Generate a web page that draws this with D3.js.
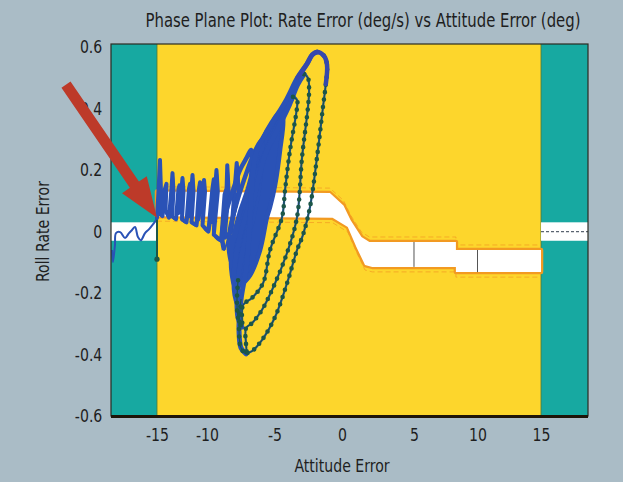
<!DOCTYPE html>
<html>
<head>
<meta charset="utf-8">
<script src="https://cdn.jsdelivr.net/npm/d3@7"></script>
<style>
  html, body { margin: 0; padding: 0; background: #aabcc6; }
  svg { display: block; }
  text { font-family: "Liberation Sans Narrow", "DejaVu Sans Condensed", "Roboto", sans-serif; fill: #1e1e1e; }
</style>
</head>
<body>
<svg id="chart" width="623" height="482"></svg>
<script>
// ---- axis ticks ----
const xTicks = [-15, -10, -5, 0, 5, 10, 15];
const yTicks = [0.6, 0.4, 0.2, 0, -0.2, -0.4, -0.6];

// ---- zones: attitude error limits (outside = teal, inside = yellow) ----
const xLimits = [-18.5, 18.5];
const innerLimits = [-15, 15];

// ---- rate deadband envelope [attitude, rate] ----
const bandOuterLeft  = { x: [-18.5, -15], upper: 0.03, lower: -0.03 };
const bandOuterRight = { x: [15, 18.5],   upper: 0.03, lower: -0.03 };
const bandUpper = [[-15, 0.13], [-0.9, 0.125], [0.1, 0.085], [0.6, 0.037], [1.35, -0.018], [1.9, -0.034], [8.3, -0.034], [8.3, -0.06], [15, -0.06]];
const bandLower = [[-15, 0.05], [-0.7, 0.045], [0.4, 0.015], [1.0, -0.05], [1.6, -0.109], [2.1, -0.115], [8.3, -0.115], [8.3, -0.132], [15, -0.132]];
const bandGridX = [5, 10];
const bandStepX = 8.3;

// ---- trajectory before reaching the attitude limit ----
const preTrack = [[-18.42, -0.06], [-18.35, -0.099], [-18.2, -0.044], [-18.12, -0.005], [-17.8, -0.002], [-17.43, -0.021], [-17.13, -0.005], [-16.9, 0.005], [-16.67, 0.015], [-16.45, -0.018], [-16.22, -0.028], [-15.91, -0.005], [-15.6, 0.008], [-15.3, 0.024], [-15.08, 0.037], [-15.0, 0.05]];
const limitHit = [[-15, 0.06], [-15, -0.07], [-15, -0.09]];

// ---- limit-cycle chatter along the deadband ----
const chatter = [
  [-15, 0.044], [-14.85, 0.13], [-14.7, 0.233], [-14.6, 0.13], [-14.75, 0.06], [-14.45, 0.05], [-14.2, 0.14], [-14.05, 0.155], [-14.15, 0.07], [-13.8, 0.045],
  [-13.55, 0.14], [-13.45, 0.19], [-13.35, 0.13], [-13.5, 0.05], [-13.1, 0.04], [-12.85, 0.14], [-12.75, 0.15], [-12.85, 0.06],
  [-12.55, 0.14], [-12.45, 0.174], [-12.35, 0.13], [-12.5, 0.04], [-12.05, 0.03], [-11.8, 0.14], [-11.7, 0.155], [-11.8, 0.05],
  [-11.55, 0.14], [-11.45, 0.184], [-11.35, 0.13], [-11.55, 0.03], [-11.05, 0.02], [-10.8, 0.14], [-10.7, 0.16], [-10.85, 0.04],
  [-10.4, 0.14], [-10.3, 0.168], [-10.2, 0.13], [-10.45, 0.02], [-9.9, 0.0], [-9.6, 0.14], [-9.5, 0.17], [-9.6, 0.03],
  [-9.4, 0.14], [-9.3, 0.2], [-9.2, 0.13], [-9.5, -0.01], [-8.95, -0.03], [-8.7, 0.12], [-8.55, 0.14],
  [-8.5, 0.216], [-8.4, 0.13], [-8.7, -0.02], [-8.2, 0.0], [-7.95, 0.14], [-7.8, 0.223], [-7.65, 0.13], [-8.3, 0.0]];

// ---- growing oscillation loops (inner to outer) ----
const loop6 = [[-8.74, -0.06], [-8.89, -0.011], [-8.59, 0.063], [-8.07, 0.135], [-7.56, 0.2], [-7.04, 0.242], [-6.74, 0.265], [-6.67, 0.233], [-6.81, 0.151], [-7.19, 0.063], [-7.7, -0.002], [-8.3, -0.054]];
const loop5 = [[-8.15, -0.112], [-8.37, -0.06], [-8.3, 0.005], [-7.85, 0.086], [-7.26, 0.168], [-6.67, 0.239], [-6.22, 0.281], [-5.93, 0.298], [-5.93, 0.249], [-6.07, 0.168], [-6.37, 0.086], [-6.81, 0.005], [-7.33, -0.06], [-7.85, -0.106]];
const loop4 = [[-7.93, -0.181], [-8.15, -0.142], [-8.22, -0.076], [-8.0, -0.011], [-7.56, 0.063], [-7.0, 0.135], [-6.5, 0.216], [-5.9, 0.298], [-5.19, 0.356], [-4.59, 0.389], [-4.37, 0.369], [-4.59, 0.265], [-4.96, 0.151], [-5.33, 0.08], [-5.56, 0.047], [-6.07, -0.06], [-6.81, -0.142], [-7.56, -0.177]];
const loop3 = [[-7.7, -0.242], [-7.93, -0.207], [-8.0, -0.142], [-7.85, -0.076], [-7.48, -0.002], [-7.0, 0.07], [-6.5, 0.151], [-5.9, 0.233], [-5.1, 0.314], [-4.3, 0.389], [-3.63, 0.438], [-3.33, 0.428], [-3.33, 0.405], [-3.85, 0.265], [-4.22, 0.135], [-4.44, 0.047], [-5.33, -0.06], [-5.85, -0.168], [-6.67, -0.216], [-7.33, -0.239]];
const loop2 = [[-7.41, -0.311], [-7.7, -0.281], [-7.78, -0.223], [-7.7, -0.158], [-7.41, -0.076], [-7.0, 0.005], [-6.6, 0.09], [-6.2, 0.168], [-5.7, 0.249], [-4.8, 0.33], [-3.9, 0.412], [-3.3, 0.477], [-2.81, 0.512], [-2.52, 0.499], [-2.44, 0.46], [-2.52, 0.405], [-2.96, 0.242], [-3.33, 0.047], [-4.0, -0.06], [-4.96, -0.168], [-5.93, -0.255], [-6.67, -0.298], [-7.11, -0.314]];
const loop1 = [[-7.11, -0.398], [-7.48, -0.379], [-7.63, -0.32], [-7.48, -0.22], [-7.1, -0.12], [-6.9, -0.02], [-6.75, 0.09], [-6.6, 0.19], [-6.3, 0.265], [-5.2, 0.35], [-4.1, 0.43], [-3.3, 0.5], [-2.6, 0.545], [-2.2, 0.575], [-1.85, 0.584], [-1.33, 0.571], [-1.11, 0.542], [-1.2, 0.48], [-1.41, 0.405], [-1.85, 0.242], [-2.37, 0.08], [-2.89, -0.011], [-3.33, -0.06], [-4.07, -0.168], [-4.96, -0.278], [-5.93, -0.353], [-6.67, -0.389], [-7.04, -0.395]];
// index of the top point of each outer loop (end of the rising side)
const loopTops = [10, 12, 14];

// ---- layout ----
const plot = { left: 111, right: 588, top: 44, bottom: 416 };
const pw = plot.right - plot.left;

const svg = d3.select("#chart");

// the printed attitude axis is not evenly spaced, so the scale is piecewise
const x = d3.scaleLinear()
  .domain([xLimits[0], -15, -10, 0, 5, 15, xLimits[1]])
  .range([0, 0.0964, 0.2013, 0.4843, 0.6352, 0.9015, 1].map(f => plot.left + f * pw));
const y = d3.scaleLinear().domain([-0.6, 0.61]).range([plot.bottom, plot.top]);

const colors = {
  teal: "#17a9a1", yellow: "#fdd62c", band: "#ffffff",
  orange: "#f29a22", blue: "#2a52b6", dots: "#1c5648", arrow: "#bd3a29"
};
const narrow = 0.87;   // horizontal squeeze for the condensed lettering

// ---- zones ----
const g = svg.append("g");
g.append("rect")
  .attr("x", x(xLimits[0])).attr("y", plot.top)
  .attr("width", x(xLimits[1]) - x(xLimits[0])).attr("height", plot.bottom - plot.top)
  .attr("fill", colors.teal);
g.append("rect")
  .attr("x", x(innerLimits[0])).attr("y", plot.top)
  .attr("width", x(innerLimits[1]) - x(innerLimits[0])).attr("height", plot.bottom - plot.top)
  .attr("fill", colors.yellow);
g.selectAll("line.limit").data(innerLimits).join("line")
  .attr("class", "limit")
  .attr("x1", d => x(d)).attr("x2", d => x(d))
  .attr("y1", plot.top).attr("y2", plot.bottom)
  .attr("stroke", "#4f7a3a").attr("stroke-width", 1.2).attr("stroke-opacity", 0.7);

// ---- deadband envelope ----
const lineGen = d3.line().x(d => x(d[0])).y(d => y(d[1]));
const bandPoly = bandUpper.concat(bandLower.slice().reverse());

// dashed outer guides
g.append("path").attr("d", lineGen(bandUpper))
  .attr("transform", "translate(0,-5)")
  .attr("fill", "none").attr("stroke", colors.orange).attr("stroke-width", 1)
  .attr("stroke-dasharray", "5 3").attr("stroke-opacity", 0.7);
g.append("path").attr("d", lineGen(bandLower))
  .attr("transform", "translate(0,5)")
  .attr("fill", "none").attr("stroke", colors.orange).attr("stroke-width", 1)
  .attr("stroke-dasharray", "5 3").attr("stroke-opacity", 0.7);
// orange rim, then white fill on top
g.append("path").attr("d", lineGen(bandPoly) + "Z")
  .attr("fill", colors.band).attr("stroke", colors.orange).attr("stroke-width", 4.5)
  .attr("stroke-linejoin", "round");
g.append("path").attr("d", lineGen(bandPoly) + "Z").attr("fill", colors.band);

// grid ticks inside the band
g.selectAll("line.bgrid").data(bandGridX).join("line")
  .attr("class", "bgrid")
  .attr("x1", d => x(d)).attr("x2", d => x(d))
  .attr("y1", d => y(d < bandStepX ? bandUpper[6][1] : bandUpper[8][1]))
  .attr("y2", d => y(d < bandStepX ? bandLower[6][1] : bandLower[8][1]))
  .attr("stroke", "#555").attr("stroke-width", 1);

[bandOuterLeft, bandOuterRight].forEach((b, i) => {
  g.append("rect")
    .attr("x", x(b.x[0])).attr("y", y(b.upper))
    .attr("width", x(b.x[1]) - x(b.x[0])).attr("height", y(b.lower) - y(b.upper))
    .attr("fill", colors.band);
  if (i === 1) {
    g.append("line")
      .attr("x1", x(b.x[0])).attr("x2", x(b.x[1]))
      .attr("y1", y(0)).attr("y2", y(0))
      .attr("stroke", "#5a6470").attr("stroke-width", 1.2).attr("stroke-dasharray", "3 2");
  }
});

// ---- trajectory ----
const curve = d3.line().x(d => x(d[0])).y(d => y(d[1])).curve(d3.curveCatmullRom.alpha(0.5));
const curveClosed = d3.line().x(d => x(d[0])).y(d => y(d[1])).curve(d3.curveCatmullRomClosed.alpha(0.5));

g.append("path").attr("d", curve(preTrack))
  .attr("fill", "none").attr("stroke", colors.blue).attr("stroke-width", 2);
g.append("path").attr("d", lineGen(limitHit))
  .attr("fill", "none").attr("stroke", colors.dots).attr("stroke-width", 2);
g.append("circle").attr("cx", x(limitHit[2][0])).attr("cy", y(limitHit[2][1]))
  .attr("r", 2.6).attr("fill", colors.dots);

const outer = [loop3, loop2, loop1];
const fullPath = chatter.concat(loop6, loop5, loop4, loop3, loop2, loop1);

// dense core: the inner loops overlap so tightly they read as a solid mass
g.append("path").attr("d", curveClosed(loop4))
  .attr("fill", colors.blue).attr("stroke", colors.blue).attr("stroke-width", 3);

g.append("path").attr("d", curve(fullPath))
  .attr("fill", "none").attr("stroke", colors.blue).attr("stroke-width", 2.2)
  .attr("stroke-linejoin", "round");
g.append("path").attr("d", lineGen(chatter))
  .attr("fill", "none").attr("stroke", colors.blue).attr("stroke-width", 4)
  .attr("stroke-linejoin", "round").attr("stroke-linecap", "round");
g.append("path").attr("d", curve(loop6.concat(loop5, loop4)))
  .attr("fill", "none").attr("stroke", colors.blue).attr("stroke-width", 4.5)
  .attr("stroke-linejoin", "round");

// rising sides of the outer loops run through the dense band
outer.forEach((lp, i) => {
  g.append("path").attr("d", curve(lp.slice(0, loopTops[i] + 1)))
    .attr("fill", "none").attr("stroke", colors.blue).attr("stroke-width", 5)
    .attr("stroke-linecap", "round");
});

// falling sides carry the sample markers
outer.forEach((lp, i) => {
  const next = i < 2 ? outer[i + 1].slice(0, 4) : [];
  const seg = lp.slice(loopTops[i]).concat(next);
  g.append("path").attr("d", curve(seg))
    .attr("fill", "none").attr("stroke", colors.dots).attr("stroke-width", 1.2);
  g.append("path").attr("d", curve(seg))
    .attr("fill", "none").attr("stroke", colors.dots).attr("stroke-width", 4.6)
    .attr("stroke-linecap", "round").attr("stroke-dasharray", "0 7.5");
});
// top of the last loop drawn heavier
g.append("path").attr("d", curve(loop1.slice(11, 18)))
  .attr("fill", "none").attr("stroke", "#3648ad").attr("stroke-width", 4.5)
  .attr("stroke-linecap", "round");

// ---- frame ----
svg.append("rect")
  .attr("x", plot.left).attr("y", plot.top)
  .attr("width", pw).attr("height", plot.bottom - plot.top)
  .attr("fill", "none").attr("stroke", "#2b2b22").attr("stroke-width", 1.2);
svg.append("line")
  .attr("x1", plot.left).attr("x2", plot.right)
  .attr("y1", plot.bottom + 0.5).attr("y2", plot.bottom + 0.5)
  .attr("stroke", "#1e1408").attr("stroke-width", 3);

// ---- axes ----
const fmt = d => String(d);
const xAxis = svg.append("g")
  .attr("transform", `translate(0,${plot.bottom})`)
  .call(d3.axisBottom(x).tickValues(xTicks).tickSize(0).tickPadding(12).tickFormat(fmt));
const yAxis = svg.append("g")
  .attr("transform", `translate(${plot.left},0)`)
  .call(d3.axisLeft(y).tickValues(yTicks).tickSize(0).tickPadding(10).tickFormat(fmt));
[xAxis, yAxis].forEach(a => {
  a.select(".domain").remove();
  a.selectAll("text").attr("font-size", 18)
    .attr("font-family", "'Liberation Sans Narrow', 'DejaVu Sans Condensed', sans-serif")
    .attr("fill", "#1e1e1e")
    .attr("transform", `scale(${narrow},1)`);
});

// ---- titles ----
svg.append("text")
  .attr("transform", `translate(363,27) scale(${narrow},1)`)
  .attr("text-anchor", "middle").attr("font-size", 19)
  .text("Phase Plane Plot:  Rate Error (deg/s) vs Attitude Error (deg)");
svg.append("text")
  .attr("transform", `translate(${x(0)},472) scale(${narrow},1)`)
  .attr("text-anchor", "middle").attr("font-size", 18)
  .text("Attitude Error");
svg.append("text")
  .attr("transform", `translate(49,${y(0)}) rotate(-90) scale(${narrow},1)`)
  .attr("text-anchor", "middle").attr("font-size", 18)
  .text("Roll Rate Error");

// ---- pointer arrow to the limit crossing ----
const tip = [x(-15), y(0.045)];
const tail = [tip[0] - 91, tip[1] - 133];
const len = Math.hypot(tip[0] - tail[0], tip[1] - tail[1]);
const u = [(tip[0] - tail[0]) / len, (tip[1] - tail[1]) / len];
const n = [-u[1], u[0]];
const headLen = 40, headHalf = 15, shaftHalf = 5.5;
const base = [tip[0] - u[0] * headLen, tip[1] - u[1] * headLen];
const pt = (p, k) => [p[0] + n[0] * k, p[1] + n[1] * k];
const arrowPts = [pt(tail, shaftHalf), pt(base, shaftHalf), pt(base, headHalf), tip,
                  pt(base, -headHalf), pt(base, -shaftHalf), pt(tail, -shaftHalf)];
svg.append("path")
  .attr("d", d3.line()(arrowPts) + "Z")
  .attr("fill", colors.arrow);
</script>
</body>
</html>
